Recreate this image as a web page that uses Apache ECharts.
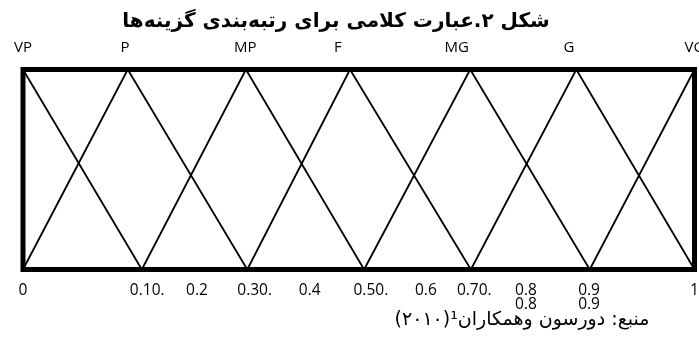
<!DOCTYPE html>
<html>
<head>
<meta charset="utf-8">
<script src="https://cdn.jsdelivr.net/npm/echarts@6/dist/echarts.min.js"></script>
<style>
  html, body { margin: 0; padding: 0; background: #fff; }
  #chart { width: 699px; height: 339px; }
</style>
</head>
<body>
<div id="chart"></div>
<script>
// دو خط زیگزاگ توابع عضویت (x از 0 تا 1، y درجه عضویت)
var zigA_x = [0, 0.177, 0.332, 0.508, 0.666, 0.844, 1];
var zigA_y = [1, 0, 1, 0, 1, 0, 1];
var zigB_x = [0, 0.156, 0.334, 0.487, 0.667, 0.824, 1];
var zigB_y = [0, 1, 0, 1, 0, 1, 0];

// برچسب‌های بالای نمودار
var termNames = ["VP", "P", "MP", "F", "MG", "G", "VG"];
var termPos = [0, 0.152, 0.331, 0.469, 0.646, 0.813, 1];

// برچسب‌های محور پایین (همان‌طور که در تصویر آمده)
var tickLabels = ["0", "0.10.", "0.2", "0.30.", "0.4", "0.50.", "0.6", "0.70.", "0.8\n0.8", "0.9\n0.9", "1"];
var tickPos = [0, 0.185, 0.259, 0.345, 0.427, 0.518, 0.600, 0.672, 0.749, 0.843, 1];

var titleText = "شکل ۲.عبارت کلامی برای رتبه‌بندی گزینه‌ها";
var sourceText = "منبع: دورسون وهمکاران¹(۲۰۱۰)";

function pairs(xs, ys) {
  return xs.map(function(x, i) { return [x, ys[i]]; });
}
function lookup(pos, names) {
  return function(v) {
    for (var i = 0; i < pos.length; i++) {
      if (Math.abs(pos[i] - v) < 1e-6) return names[i];
    }
    return "";
  };
}

var latin = "Open Sans";
var persian = "DejaVu Sans";

var chart = echarts.init(document.getElementById("chart"));
chart.setOption({
  animation: false,
  backgroundColor: "#fff",
  title: [
    {
      text: "\u202B" + titleText + "\u202C",
      left: 331,
      top: 7,
      textAlign: "center",
      textStyle: { fontFamily: persian, fontSize: 20, fontWeight: "bold", color: "#000" }
    },
    {
      text: "\u202B" + sourceText + "\u202C",
      left: 517,
      top: 306,
      textAlign: "center",
      textStyle: { fontFamily: persian, fontSize: 19, fontWeight: "normal", color: "#000" }
    }
  ],
  grid: {
    left: 23,
    right: 4.5,
    top: 69.5,
    bottom: 69.5,
    containLabel: false,
    outerBoundsMode: "none",
    show: true,
    backgroundColor: "transparent",
    borderColor: "#000",
    borderWidth: 5
  },
  xAxis: [
    {
      type: "value",
      min: 0,
      max: 1,
      position: "bottom",
      axisLine: { show: false },
      axisTick: { show: false },
      splitLine: { show: false },
      axisLabel: {
        customValues: tickPos,
        formatter: lookup(tickPos, tickLabels),
        margin: 14,
        fontFamily: latin,
        fontSize: 15.5,
        lineHeight: 14,
        color: "#000"
      }
    },
    {
      type: "value",
      min: 0,
      max: 1,
      position: "top",
      axisLine: { show: false },
      axisTick: { show: false },
      splitLine: { show: false },
      axisLabel: {
        customValues: termPos,
        formatter: lookup(termPos, termNames),
        margin: 14,
        fontFamily: latin,
        fontSize: 15,
        color: "#000"
      }
    }
  ],
  yAxis: {
    type: "value",
    min: 0,
    max: 1,
    show: false
  },
  series: [
    {
      type: "line",
      data: pairs(zigA_x, zigA_y),
      symbol: "none",
      lineStyle: { color: "#000", width: 1.8 }
    },
    {
      type: "line",
      data: pairs(zigB_x, zigB_y),
      symbol: "none",
      lineStyle: { color: "#000", width: 1.8 }
    }
  ]
});
</script>
</body>
</html>
